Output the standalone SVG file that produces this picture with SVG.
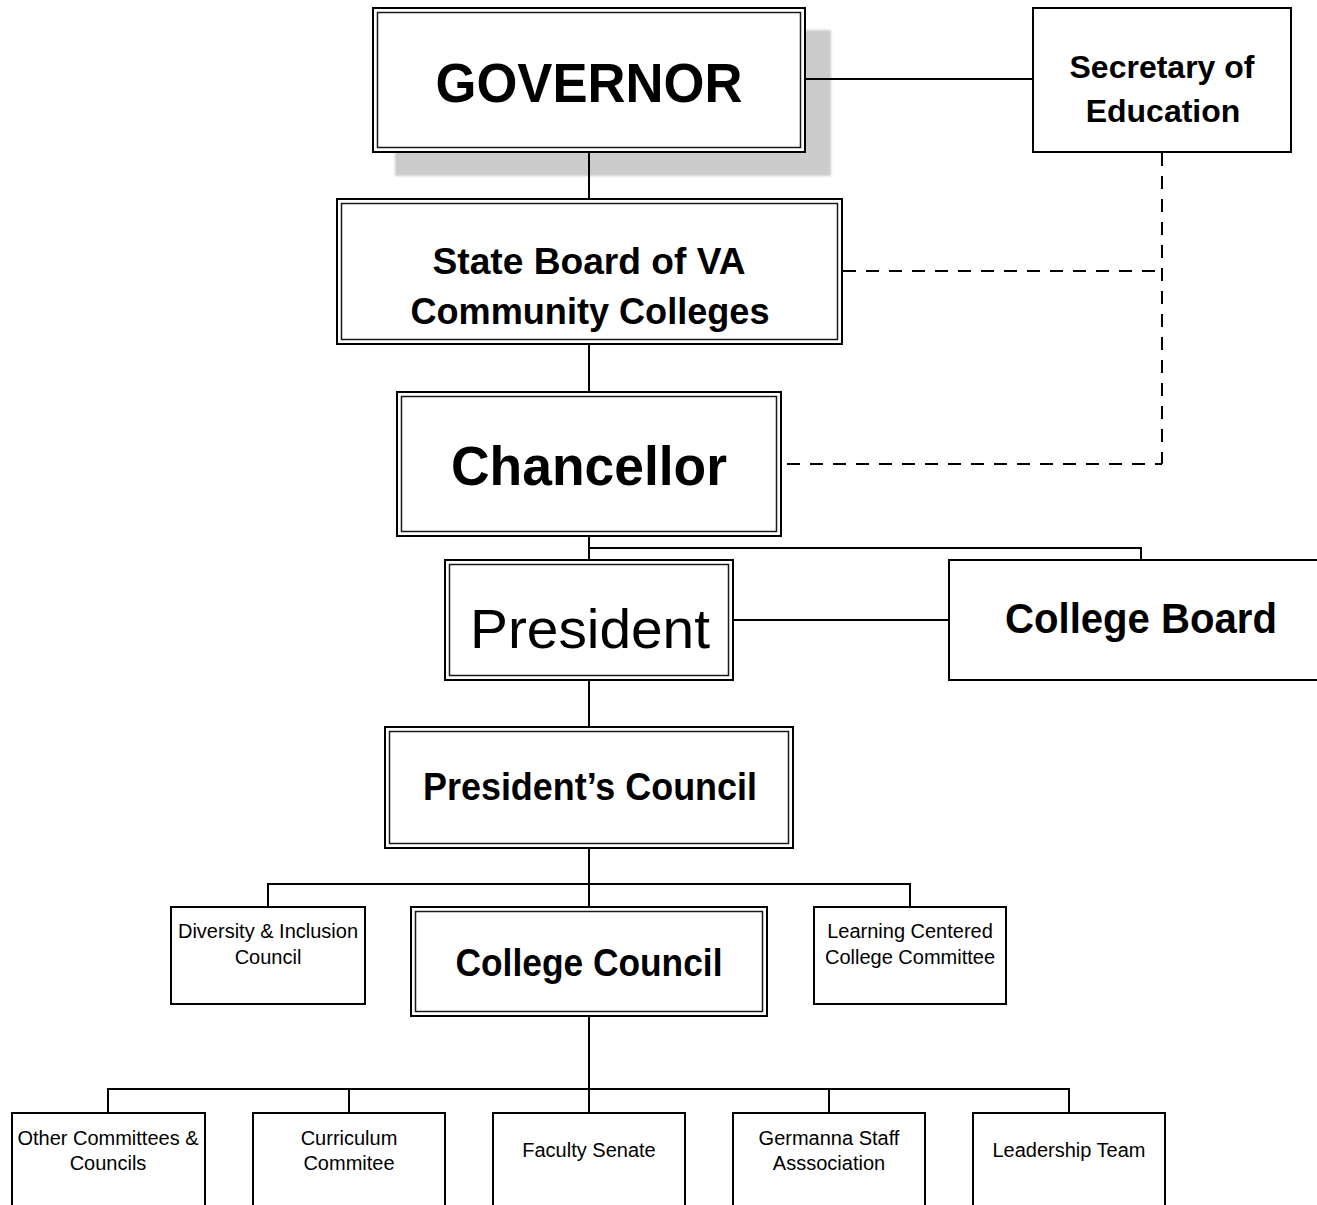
<svg xmlns="http://www.w3.org/2000/svg" width="1317" height="1205" viewBox="0 0 1317 1205">
  <defs>
    <filter id="soft" x="-5%" y="-5%" width="110%" height="110%">
      <feGaussianBlur stdDeviation="1.2"/>
    </filter>
  </defs>
  <style>
    .box { fill: #ffffff; stroke: #000000; stroke-width: 2; }
    .inner { fill: none; stroke: #1a1a1a; stroke-width: 1.5; }
    .ln { fill: none; stroke: #000000; stroke-width: 2; }
    .dash { fill: none; stroke: #000000; stroke-width: 2; stroke-dasharray: 13 10; }
    text { font-family: "Liberation Sans", Arial, sans-serif; fill: #000000; text-anchor: middle; }
    .b { font-weight: bold; }
    .small { font-size: 20px; }
  </style>
  <rect width="1317" height="1205" fill="#ffffff"/>

  <g id="governor">
    <rect x="395" y="30" width="436" height="146" fill="#cccccc" filter="url(#soft)"/>
    <rect class="box" x="373" y="8" width="432" height="144"/>
    <rect class="inner" x="377.5" y="12.5" width="423" height="135"/>
    <text class="b" x="589" y="101.5" font-size="56" textLength="307" lengthAdjust="spacingAndGlyphs">GOVERNOR</text>
  </g>

  <g id="secretary">
    <rect class="box" x="1033" y="8" width="258" height="144"/>
    <text class="b" x="1162" y="78" font-size="32">Secretary of</text>
    <text class="b" x="1163" y="122" font-size="32">Education</text>
  </g>

  <g id="state-board">
    <rect class="box" x="337" y="199" width="505" height="145"/>
    <rect class="inner" x="341.5" y="203.5" width="496" height="136"/>
    <text class="b" x="589" y="274" font-size="37" textLength="313" lengthAdjust="spacingAndGlyphs">State Board of VA</text>
    <text class="b" x="590" y="324" font-size="37" textLength="359" lengthAdjust="spacingAndGlyphs">Community Colleges</text>
  </g>

  <g id="chancellor">
    <rect class="box" x="397" y="392" width="384" height="144"/>
    <rect class="inner" x="401.5" y="396.5" width="375" height="135"/>
    <text class="b" x="589" y="485" font-size="56" textLength="276" lengthAdjust="spacingAndGlyphs">Chancellor</text>
  </g>

  <g id="president">
    <rect class="box" x="445" y="560" width="288" height="120"/>
    <rect class="inner" x="449.5" y="564.5" width="279" height="111"/>
    <text x="590" y="648" font-size="56" textLength="240" lengthAdjust="spacingAndGlyphs">President</text>
  </g>

  <g id="college-board">
    <rect class="box" x="949" y="560" width="380" height="120"/>
    <text class="b" x="1141" y="633" font-size="43" textLength="272" lengthAdjust="spacingAndGlyphs">College Board</text>
  </g>

  <g id="presidents-council">
    <rect class="box" x="385" y="727" width="408" height="121"/>
    <rect class="inner" x="389.5" y="731.5" width="399" height="112"/>
    <text class="b" x="590" y="800" font-size="38" textLength="334" lengthAdjust="spacingAndGlyphs">President’s Council</text>
  </g>

  <g id="diversity">
    <rect class="box" x="171" y="907" width="194" height="97"/>
    <text class="small" x="268" y="938">Diversity &amp; Inclusion</text>
    <text class="small" x="268" y="964">Council</text>
  </g>

  <g id="college-council">
    <rect class="box" x="411" y="907" width="356" height="109"/>
    <rect class="inner" x="415.5" y="911.5" width="347" height="100"/>
    <text class="b" x="589" y="976" font-size="38" textLength="267" lengthAdjust="spacingAndGlyphs">College Council</text>
  </g>

  <g id="learning">
    <rect class="box" x="814" y="907" width="192" height="97"/>
    <text class="small" x="910" y="938">Learning Centered</text>
    <text class="small" x="910" y="964">College Committee</text>
  </g>

  <g id="other-committees">
    <rect class="box" x="12" y="1113" width="193" height="110"/>
    <text class="small" x="108" y="1145">Other Committees &amp;</text>
    <text class="small" x="108" y="1170">Councils</text>
  </g>

  <g id="curriculum">
    <rect class="box" x="253" y="1113" width="192" height="110"/>
    <text class="small" x="349" y="1145">Curriculum</text>
    <text class="small" x="349" y="1170">Commitee</text>
  </g>

  <g id="faculty-senate">
    <rect class="box" x="493" y="1113" width="192" height="110"/>
    <text class="small" x="589" y="1157">Faculty Senate</text>
  </g>

  <g id="germanna-staff">
    <rect class="box" x="733" y="1113" width="192" height="110"/>
    <text class="small" x="829" y="1145">Germanna Staff</text>
    <text class="small" x="829" y="1170">Asssociation</text>
  </g>

  <g id="leadership-team">
    <rect class="box" x="973" y="1113" width="192" height="110"/>
    <text class="small" x="1069" y="1157">Leadership Team</text>
  </g>

  <g id="connectors">
    <path class="ln" d="M806 79 H1032"/>
    <path class="ln" d="M589 153 V198"/>
    <path class="ln" d="M589 345 V391"/>
    <path class="ln" d="M589 537 V559"/>
    <path class="ln" d="M589 548 H1141 V559"/>
    <path class="ln" d="M734 620 H948"/>
    <path class="ln" d="M589 681 V726"/>
    <path class="ln" d="M589 849 V906"/>
    <path class="ln" d="M268 906 V884 H910 V906"/>
    <path class="ln" d="M589 1017 V1112"/>
    <path class="ln" d="M108 1112 V1089 H1069 V1112"/>
    <path class="ln" d="M349 1089 V1112"/>
    <path class="ln" d="M829 1089 V1112"/>
    <path class="dash" d="M1162 153 V464"/>
    <path class="dash" d="M787 464 H1162"/>
    <path class="dash" d="M843 271 H1162"/>
  </g>
</svg>
